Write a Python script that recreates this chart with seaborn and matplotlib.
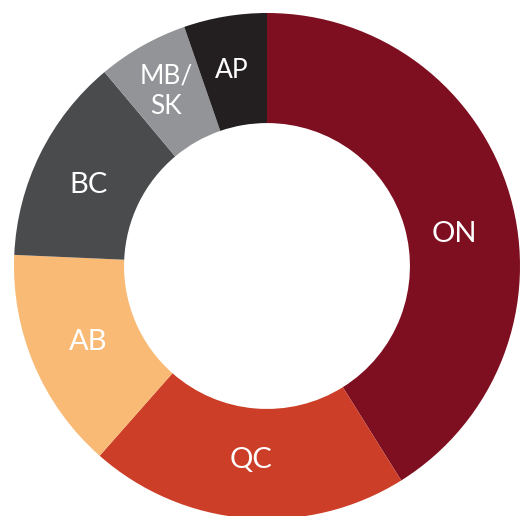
import matplotlib
matplotlib.use("Agg")
from matplotlib import pyplot as plt
import seaborn as sns

# Quote-part par province (en %)
provinces = ["ON", "QC", "AB", "BC", "MB/\nSK", "AP"]
parts = [41.1, 20.4, 14.2, 13.2, 5.8, 5.3]
couleurs = ["#7e0f20", "#cc3e27", "#f9ba75", "#4a4b4d", "#939497", "#231f20"]
tailles = [21, 21, 21, 21, 19, 19]

sns.set_theme(style="white")
plt.rcParams["font.family"] = ["Lato", "DejaVu Sans"]

fig = plt.figure(figsize=(5.22, 5.16), dpi=100)
ax = fig.add_axes([14 / 522, -3 / 516, 506 / 522, 506 / 516])

wedges, textes = ax.pie(parts, labels=provinces, colors=couleurs, startangle=90,
                        counterclock=False, labeldistance=0.77,
                        wedgeprops=dict(width=0.435, linewidth=0),
                        textprops=dict(color="white"))

for t, s in zip(textes, tailles):
    t.set_horizontalalignment("center")
    t.set_verticalalignment("center")
    t.set_fontsize(s)
    t.set_linespacing(1.3)

# ON est placé un peu plus bas que le milieu de sa part
x, y = textes[0].get_position()
textes[0].set_position((x, y - 0.087))
# petits décalages des étiquettes de gauche
for i, (dx, dy) in {3: (-0.015, -0.02), 4: (-0.02, 0.02), 5: (-0.01, 0.015)}.items():
    x, y = textes[i].get_position()
    textes[i].set_position((x + dx, y + dy))

ax.set_xlim(-1, 1)
ax.set_ylim(-1, 1)
ax.axis("off")

plt.savefig("out.png", dpi=100)
